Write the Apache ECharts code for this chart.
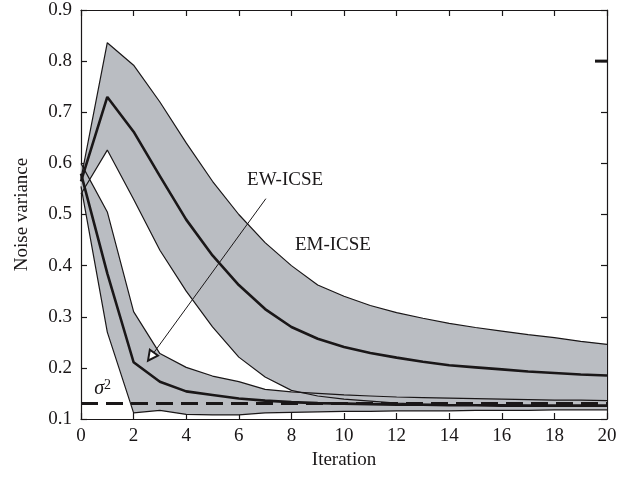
<!doctype html>
<html>
<head>
<meta charset="utf-8">
<title>Noise variance</title>
<script src="https://cdn.jsdelivr.net/npm/echarts@6/dist/echarts.min.js"></script>
<style>
html,body{margin:0;padding:0;background:#fff;}
#chart{width:626px;height:477px;}
</style>
</head>
<body>
<div id="chart"></div>
<script>
// data
var iterations = [0,1,2,3,4,5,6,7,8,9,10,11,12,13,14,15,16,17,18,19,20];

var emUpper = [0.57,0.836,0.792,0.72,0.64,0.565,0.50,0.445,0.40,0.362,0.340,0.322,0.308,0.297,0.287,0.279,0.272,0.265,0.259,0.252,0.246];
var emMean  = [0.565,0.730,0.662,0.575,0.49,0.42,0.362,0.315,0.280,0.257,0.241,0.229,0.220,0.212,0.205,0.201,0.197,0.193,0.190,0.187,0.185];
var emLower = [0.54,0.626,0.53,0.43,0.35,0.28,0.221,0.182,0.156,0.145,0.139,0.135,0.131,0.129,0.128,0.128,0.128,0.127,0.127,0.127,0.127];

var ewUpper = [0.60,0.505,0.31,0.228,0.201,0.184,0.173,0.158,0.153,0.150,0.147,0.145,0.143,0.142,0.141,0.140,0.139,0.138,0.137,0.137,0.136];
var ewMean  = [0.58,0.385,0.211,0.173,0.154,0.147,0.140,0.136,0.133,0.131,0.130,0.129,0.128,0.128,0.127,0.127,0.126,0.126,0.126,0.126,0.126];
var ewLower = [0.555,0.27,0.112,0.117,0.109,0.108,0.108,0.112,0.113,0.114,0.115,0.115,0.116,0.116,0.116,0.117,0.117,0.117,0.118,0.118,0.118];

var sigma2 = 0.125;
var xMin = 0, xMax = 20, xStep = 2;
var yMin = 0.1, yMax = 0.9, yStep = 0.1;

// annotations (data coords)
var labelNames = ['EW-ICSE', 'EM-ICSE', 'σ²'];
var labelPos = [[7.76, 0.567], [9.58, 0.44], [0.82, 0.16]];
var arrowFrom = [7.03, 0.531];
var arrowTo = [2.66, 0.222];
var rightMark = [[20, 0.8]];

var ink = '#1a1718';
var bandColor = '#babdc2';
var font = 'Liberation Serif';
var fs = 19;

function pairs(ys){
	return iterations.map(function(x, i){ return [x, ys[i]]; });
}

function band(upper, lower){
	return function(params, api){
		var pts = [];
		for (var i = 0; i < iterations.length; i++) pts.push(api.coord([iterations[i], upper[i]]));
		for (var j = iterations.length - 1; j >= 0; j--) pts.push(api.coord([iterations[j], lower[j]]));
		return {type: 'polygon', shape: {points: pts}, style: {fill: bandColor}};
	};
}

function edge(ys, w){
	return {
		type: 'line', data: pairs(ys), symbol: 'none', silent: true, z: 3,
		lineStyle: {color: ink, width: w}
	};
}

var axisCommon = {
	type: 'value',
	axisLine: {onZero: false, lineStyle: {color: ink, width: 1.2}},
	axisTick: {inside: true, length: 6, lineStyle: {color: ink, width: 1.2}},
	splitLine: {show: false}
};

var chart = echarts.init(document.getElementById('chart'));
var option = {
	animation: false,
	textStyle: {fontFamily: font},
	grid: {left: 81, right: 19, top: 10, bottom: 58},
	xAxis: [
		Object.assign({}, axisCommon, {
			min: xMin, max: xMax, interval: xStep, position: 'bottom',
			axisLabel: {margin: 8, color: ink, fontSize: fs, fontFamily: font},
			name: 'Iteration', nameLocation: 'middle', nameGap: 32,
			nameTextStyle: {color: ink, fontSize: fs, fontFamily: font}
		}),
		Object.assign({}, axisCommon, {
			min: xMin, max: xMax, interval: xStep, position: 'top',
			axisLabel: {show: false}
		})
	],
	yAxis: [
		Object.assign({}, axisCommon, {
			min: yMin, max: yMax, interval: yStep, position: 'left',
			axisLabel: {margin: 9, color: ink, fontSize: fs, fontFamily: font},
			name: 'Noise variance', nameLocation: 'middle', nameGap: 49,
			nameTextStyle: {color: ink, fontSize: fs, fontFamily: font}
		}),
		Object.assign({}, axisCommon, {
			min: yMin, max: yMax, interval: yStep, position: 'right',
			axisLabel: {show: false}
		})
	],
	series: [
		{type: 'custom', silent: true, z: 1, data: [[0, 0]], renderItem: band(emUpper, emLower)},
		{type: 'custom', silent: true, z: 1, data: [[0, 0]], renderItem: band(ewUpper, ewLower)},
		edge(emUpper, 1.2),
		edge(emLower, 1.2),
		edge(ewUpper, 1.2),
		edge(ewLower, 1.2),
		edge(emMean, 2.6),
		edge(ewMean, 2.6),
		{
			type: 'line', data: [], silent: true, z: 4,
			markLine: {
				silent: true, symbol: ['none', 'none'],
				label: {show: false},
				lineStyle: {color: ink, width: 3, type: [17, 8]},
				data: [{yAxis: sigma2}]
			}
		},
		{
			type: 'line', data: [], silent: true, z: 5,
			markLine: {
				silent: true, symbol: ['none', 'emptyTriangle'], symbolSize: 10,
				label: {show: false},
				lineStyle: {color: ink, width: 1, type: 'solid'},
				data: [[{coord: arrowFrom}, {coord: arrowTo}]]
			}
		},
		{
			type: 'scatter', silent: true, z: 6, symbolSize: 0,
			itemStyle: {color: ink, opacity: 1},
			data: labelNames.map(function(n, i){ return {name: n, value: labelPos[i]}; }),
			label: {
				show: true, position: [0, 0], align: 'center', verticalAlign: 'middle',
				color: ink, opacity: 1, fontSize: fs, fontFamily: font,
				formatter: function(p){
					return p.name === 'σ²' ? '{i|σ}{s|2}' : p.name;
				},
				rich: {
					i: {fontStyle: 'italic', fontSize: 20, color: ink, fontFamily: font},
					s: {fontSize: 14, color: ink, fontFamily: font, verticalAlign: 'top'}
				}
			}
		},
		{
			type: 'scatter', silent: true, clip: false, z: 6,
			symbol: 'rect', symbolSize: [12, 3], symbolOffset: [-6, 0],
			itemStyle: {color: ink, opacity: 1},
			data: rightMark
		}
	]
};
chart.setOption(option);
</script>
</body>
</html>
